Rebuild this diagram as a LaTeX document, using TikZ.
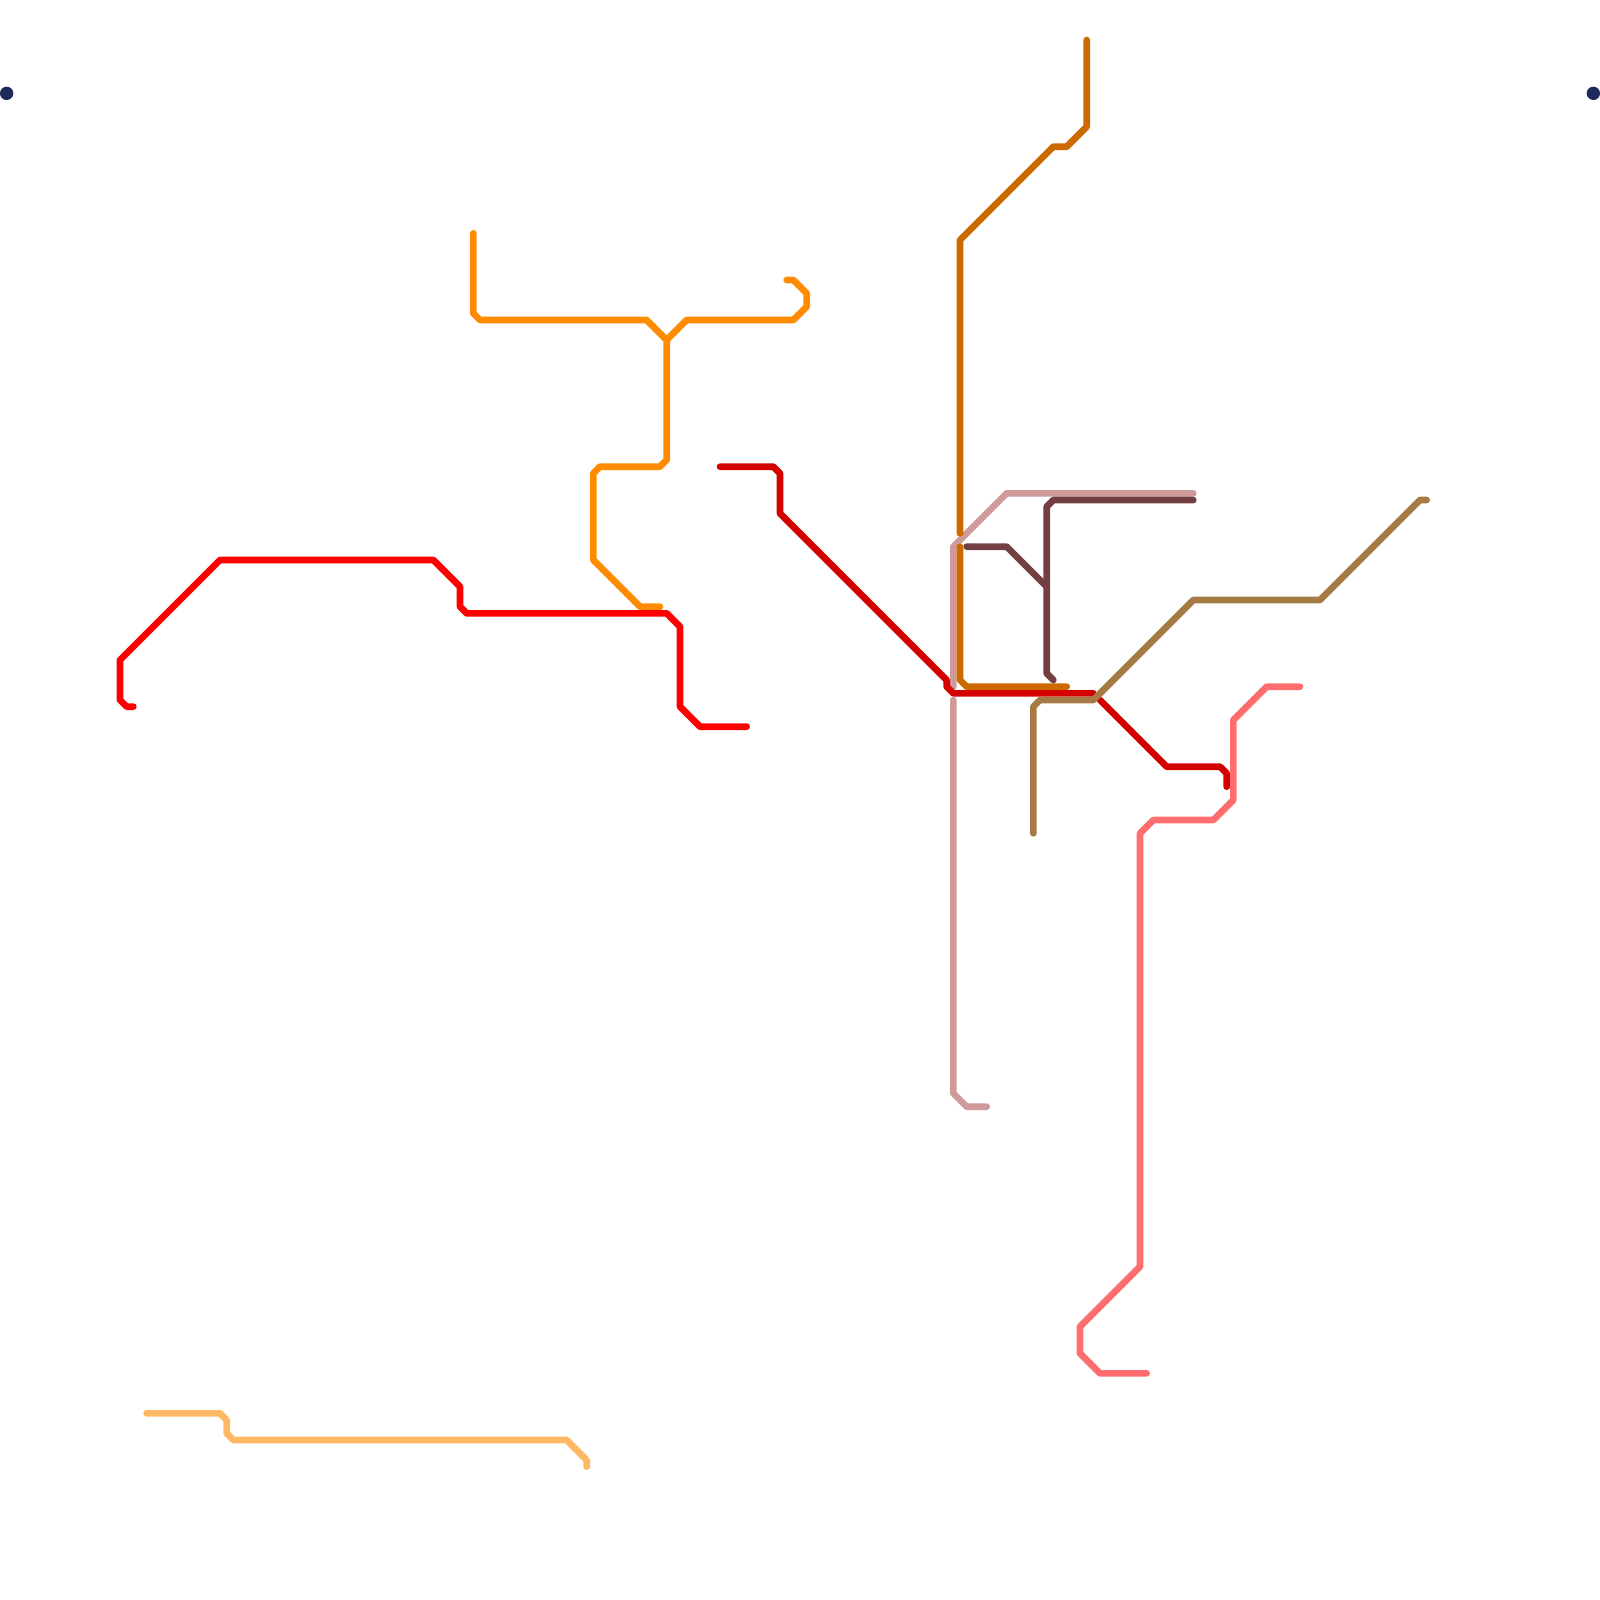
\documentclass[tikz,border=0pt]{standalone}
\usepackage{tikz}
\definecolor{routered}{HTML}{FF0000}
\definecolor{routedarkred}{HTML}{D40000}
\definecolor{routeorange}{HTML}{FF8C00}
\definecolor{routepale}{HTML}{FFB866}
\definecolor{routechoc}{HTML}{CC6A00}
\definecolor{routepink}{HTML}{D09A9A}
\definecolor{routemaroon}{HTML}{733F42}
\definecolor{routebrown}{HTML}{A67A45}
\definecolor{routesalmon}{HTML}{FF6E6E}
\definecolor{dotnavy}{HTML}{1F2A5C}

\begin{document}
\begin{tikzpicture}[
  x=0.1cm, y=-0.1cm,
  route/.style={line width=2.85pt, line cap=round, line join=round},
  dot/.style={circle, fill=dotnavy, draw=none, minimum size=0.2cm, inner sep=0pt, outer sep=0pt}]
  \useasboundingbox (0,0) rectangle (240,240);
  \node[dot] (dotleft) at (1,14) {};
  \node[dot] (dotright) at (239,14) {};
  % pale line
  \draw[route, routepale] (22,212) -- (33,212) -- (34,213) -- (34,215) -- (35,216) -- (85,216) -- (88,219) -- (88,220);
  % orange line
  \draw[route, routeorange] (71,35) -- (71,47) -- (72,48) -- (97,48) -- (100,51) -- (100,69) -- (99,70) -- (90,70) -- (89,71) -- (89,84) -- (96,91) -- (99,91);
  \draw[route, routeorange] (100,51) -- (103,48) -- (119,48) -- (121,46) -- (121,44) -- (119,42) -- (118,42);
  % red line
  \draw[route, routered] (20,106) -- (19,106) -- (18,105) -- (18,99) -- (33,84) -- (65,84) -- (69,88) -- (69,91) -- (70,92) -- (100,92) -- (102,94) -- (102,106) -- (105,109) -- (112,109);
  % pink line
  \draw[route, routepink] (179,74) -- (151,74) -- (143,82) -- (143,103);
  \draw[route, routepink] (143,105) -- (143,164) -- (145,166) -- (148,166);
  % chocolate line
  \draw[route, routechoc] (163,6) -- (163,19) -- (160,22) -- (158,22) -- (144,36) -- (144,80);
  \draw[route, routechoc] (144,82) -- (144,102) -- (145,103) -- (160,103);
  % maroon line
  \draw[route, routemaroon] (179,75) -- (158,75) -- (157,76) -- (157,101) -- (158,102);
  \draw[route, routemaroon] (145,82) -- (151,82) -- (157,88);
  % dark red line
  \draw[route, routedarkred] (108,70) -- (116,70) -- (117,71) -- (117,77) -- (142,102) -- (142,103) -- (143,104) -- (164,104);
  \draw[route, routedarkred] (165,105) -- (175,115) -- (183,115) -- (184,116) -- (184,118);
  % brown line
  \draw[route, routebrown] (214,75) -- (213,75) -- (198,90) -- (179,90) -- (164,105) -- (156,105) -- (155,106) -- (155,125);
  % salmon line
  \draw[route, routesalmon] (195,103) -- (190,103) -- (185,108) -- (185,120) -- (182,123) -- (173,123) -- (171,125) -- (171,190) -- (162,199) -- (162,203) -- (165,206) -- (172,206);
\end{tikzpicture}
\end{document}
